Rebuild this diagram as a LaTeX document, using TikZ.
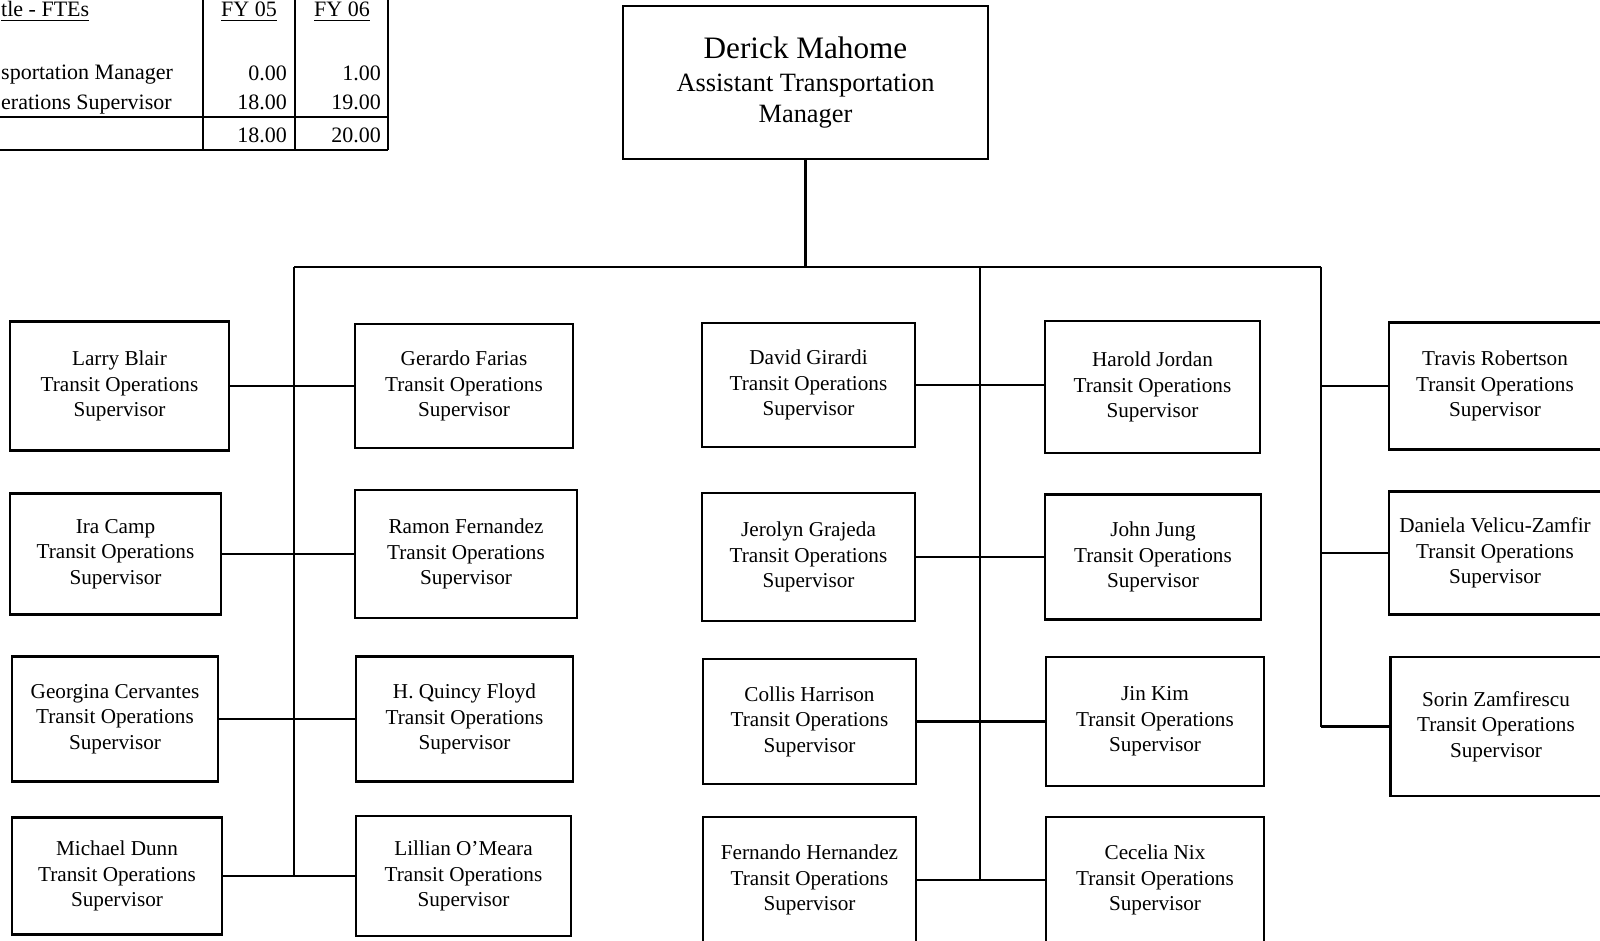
\documentclass[tikz,border=0pt]{standalone}
\usepackage{fontspec}
\setmainfont{Liberation Serif}
\begin{document}
\begin{tikzpicture}[x=0.5pt, y=-0.5pt, line width=1.2pt,
  supbox/.style={draw, line width=1.4pt, inner sep=0pt, align=center, font=\fontsize{10.6}{12.75}\selectfont},
  mgrbox/.style={draw, line width=1.4pt, inner sep=0pt, align=center, font=\fontsize{13.2}{15.3}\selectfont},
  dims/.style 2 args={minimum width=#1*0.5pt, minimum height=#2*0.5pt},
  cell/.style={inner sep=0pt, font=\fontsize{11}{13}\selectfont}]
  \useasboundingbox (0,0) rectangle (1600,941);
  % FTE table (cropped)
  \draw (203,0) -- (203,150) (295,0) -- (295,150) (388,0) -- (388,150);
  \draw (0,117) -- (388,117) (0,150) -- (388,150);
  \node[cell, anchor=base west] (ttl) at (0,17) {\underline{tle - FTEs}};
  \node[cell, anchor=base] (fy05) at (249,17) {\underline{FY 05}};
  \node[cell, anchor=base] (fy06) at (342,17) {\underline{FY 06}};
  \node[cell, anchor=base west] (rowa) at (0,80) {sportation Manager};
  \node[cell, anchor=base west] (rowb) at (0,110) {erations Supervisor};
  \node[cell, anchor=base east] at (288,81) {0.00};   \node[cell, anchor=base east] at (382,81) {1.00};
  \node[cell, anchor=base east] at (288,110) {18.00}; \node[cell, anchor=base east] at (382,110) {19.00};
  \node[cell, anchor=base east] at (288,143) {18.00}; \node[cell, anchor=base east] at (382,143) {20.00};

  \node[mgrbox, dims={365}{153}] (mahome) at (805.5,82.5)
    {{\fontsize{15.6}{15.3}\selectfont Derick Mahome}\\[1.5pt] Assistant Transportation\\ Manager};

  \node[supbox, dims={219}{129}] (blair)     at (119.5,386) {Larry Blair\\ Transit Operations\\ Supervisor};
  \node[supbox, dims={211}{121}] (camp)      at (115.5,554) {Ira Camp\\ Transit Operations\\ Supervisor};
  \node[supbox, dims={206}{125}] (cervantes) at (115,719)   {Georgina Cervantes\\ Transit Operations\\ Supervisor};
  \node[supbox, dims={210}{117}] (dunn)      at (117,876)   {Michael Dunn\\ Transit Operations\\ Supervisor};

  \node[supbox, dims={218}{124}] (farias)    at (464,386)   {Gerardo Farias\\ Transit Operations\\ Supervisor};
  \node[supbox, dims={222}{128}] (fernandez) at (466,554)   {Ramon Fernandez\\ Transit Operations\\ Supervisor};
  \node[supbox, dims={217}{125}] (floyd)     at (464.5,719) {H. Quincy Floyd\\ Transit Operations\\ Supervisor};
  \node[supbox, dims={215}{120}] (omeara)    at (463.5,876) {Lillian O’Meara\\ Transit Operations\\ Supervisor};

  \node[supbox, dims={213}{124}] (girardi)   at (808.5,385) {David Girardi\\ Transit Operations\\ Supervisor};
  \node[supbox, dims={213}{128}] (grajeda)   at (808.5,557) {Jerolyn Grajeda\\ Transit Operations\\ Supervisor};
  \node[supbox, dims={213}{125}] (harrison)  at (809.5,721.5) {Collis Harrison\\ Transit Operations\\ Supervisor};
  \node[supbox, dims={213}{126}] (hernandez) at (809.5,880) {Fernando Hernandez\\ Transit Operations\\ Supervisor};

  \node[supbox, dims={215}{132}] (jordan)    at (1152.5,387) {Harold Jordan\\ Transit Operations\\ Supervisor};
  \node[supbox, dims={216}{125}] (jung)      at (1153,557)   {John Jung\\ Transit Operations\\ Supervisor};
  \node[supbox, dims={218}{129}] (kim)       at (1155,721.5) {Jin Kim\\ Transit Operations\\ Supervisor};
  \node[supbox, dims={218}{126}] (nix)       at (1155,880)   {Cecelia Nix\\ Transit Operations\\ Supervisor};

  \node[supbox, dims={212}{127}] (robertson)  at (1495,386)   {Travis Robertson\\ Transit Operations\\ Supervisor};
  \node[supbox, dims={212}{123}] (velicu)     at (1495,553)   {Daniela Velicu-Zamfir\\ Transit Operations\\ Supervisor};
  \node[supbox, dims={211}{139}] (zamfirescu) at (1496,726.5) {Sorin Zamfirescu\\ Transit Operations\\ Supervisor};

  % bus and spines
  \coordinate (busL) at (294,267); \coordinate (busM) at (980,267); \coordinate (busR) at (1321,267);
  \draw (mahome) -- (mahome |- busL);
  \draw (busL) -- (busR);
  \draw (busL) -- (busL |- dunn);
  \draw (busM) -- (busM |- hernandez);
  \draw (busR) -- (busR |- zamfirescu);

  \draw (blair) -- (farias);  \draw (camp) -- (fernandez);  \draw (cervantes) -- (floyd);  \draw (dunn) -- (omeara);
  \draw (girardi) -- (girardi -| jordan.west); \draw (grajeda) -- (jung);  \draw (harrison) -- (kim);  \draw (hernandez) -- (nix);
  \draw (busR |- robertson) -- (robertson);
  \draw (busR |- velicu) -- (velicu);
  \draw (busR |- zamfirescu) -- (zamfirescu);
\end{tikzpicture}
\end{document}
